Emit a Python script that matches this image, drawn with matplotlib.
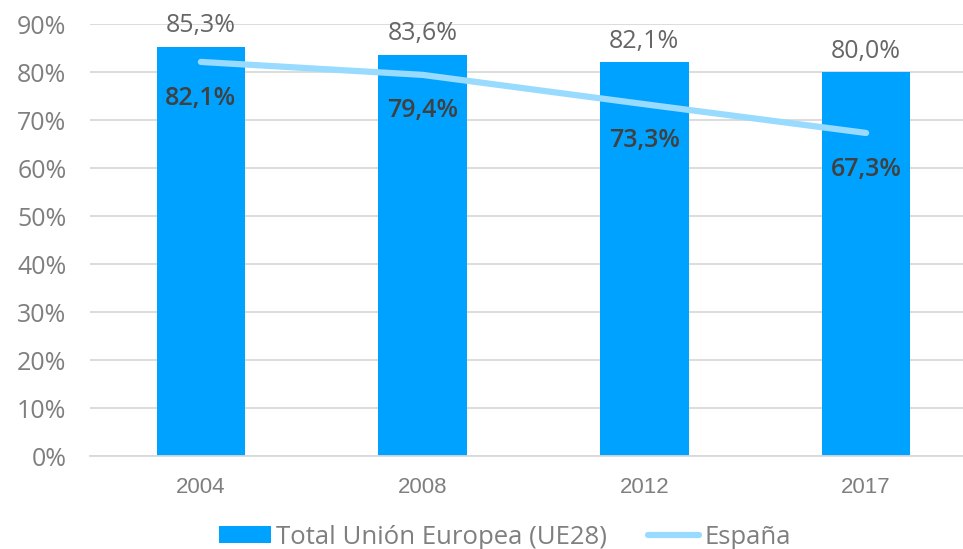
#!/usr/bin/env python3
"""
EU vs Spain share chart, 2004-2017.
"""

import matplotlib

matplotlib.use("Agg")

import matplotlib.pyplot as plt
from matplotlib.lines import Line2D
from matplotlib.patches import Patch


YEARS = ["2004", "2008", "2012", "2017"]
EU_VALUES = [85.3, 83.6, 82.1, 80.0]
SPAIN_VALUES = [82.1, 79.4, 73.3, 67.3]
Y_TICKS = [0, 10, 20, 30, 40, 50, 60, 70, 80, 90]

COLORS = {
    "bar": "#00a2ff",
    "line": "#99dbff",
    "grid": "#d9d9d9",
    "tick": "#7f7f7f",
    "label": "#666666",
    "inner": "#404040",
}

FONT = ["Open Sans", "DejaVu Sans"]


def fmt(value):
    return f"{value:.1f}%".replace(".", ",")


def main():
    fig = plt.figure(figsize=(9.63, 5.49), dpi=100, facecolor="white")
    ax = fig.add_axes([90 / 963, 93 / 549, 1 - 90 / 963, 432 / 549])

    xs = list(range(len(YEARS)))
    ax.bar(xs, EU_VALUES, width=0.4, color=COLORS["bar"], zorder=2)
    ax.plot(
        xs,
        SPAIN_VALUES,
        color=COLORS["line"],
        linewidth=4.5,
        solid_capstyle="round",
        zorder=3,
    )

    for x, value in zip(xs, EU_VALUES):
        ax.annotate(
            fmt(value),
            (x, value),
            xytext=(0, 6),
            textcoords="offset points",
            ha="center",
            va="bottom",
            fontsize=18,
            color=COLORS["label"],
            family=FONT,
        )
    for x, value in zip(xs, SPAIN_VALUES):
        ax.annotate(
            fmt(value),
            (x, value),
            xytext=(0, -26),
            textcoords="offset points",
            ha="center",
            va="center",
            fontsize=18,
            fontweight="semibold",
            color=COLORS["inner"],
            family=FONT,
        )

    ax.set_xlim(-0.5, 3.437)
    ax.set_ylim(0, 90)
    ax.set_yticks(Y_TICKS)
    ax.set_yticklabels([f"{t}%" for t in Y_TICKS], family=FONT, fontsize=18, color=COLORS["tick"])
    ax.set_xticks(xs)
    ax.set_xticklabels(YEARS, family="Liberation Sans", fontsize=16, color=COLORS["tick"])
    ax.tick_params(axis="both", length=0)
    ax.tick_params(axis="x", pad=15)
    ax.tick_params(axis="y", pad=17)

    ax.grid(axis="y", color=COLORS["grid"], linewidth=1.3, zorder=0)
    ax.set_axisbelow(True)
    for side in ["top", "right", "left"]:
        ax.spines[side].set_visible(False)
    ax.spines["bottom"].set_color(COLORS["grid"])
    ax.spines["bottom"].set_linewidth(1.3)

    handles = [
        Patch(facecolor=COLORS["bar"], edgecolor="none"),
        Line2D([0], [0], color=COLORS["line"], linewidth=4.5, solid_capstyle="round"),
    ]
    fig.legend(
        handles,
        ["Total Unión Europea (UE28)", "España"],
        loc="center",
        bbox_to_anchor=(505 / 963, 1 - 537 / 549),
        ncol=2,
        frameon=False,
        prop={"family": FONT, "size": 18.5},
        labelcolor=COLORS["tick"],
        handlelength=2.0,
        handleheight=0.6,
        handletextpad=0.2,
        columnspacing=1.6,
    )

    fig.savefig("out.png", dpi=100, facecolor="white")
    plt.close(fig)


if __name__ == "__main__":
    main()
